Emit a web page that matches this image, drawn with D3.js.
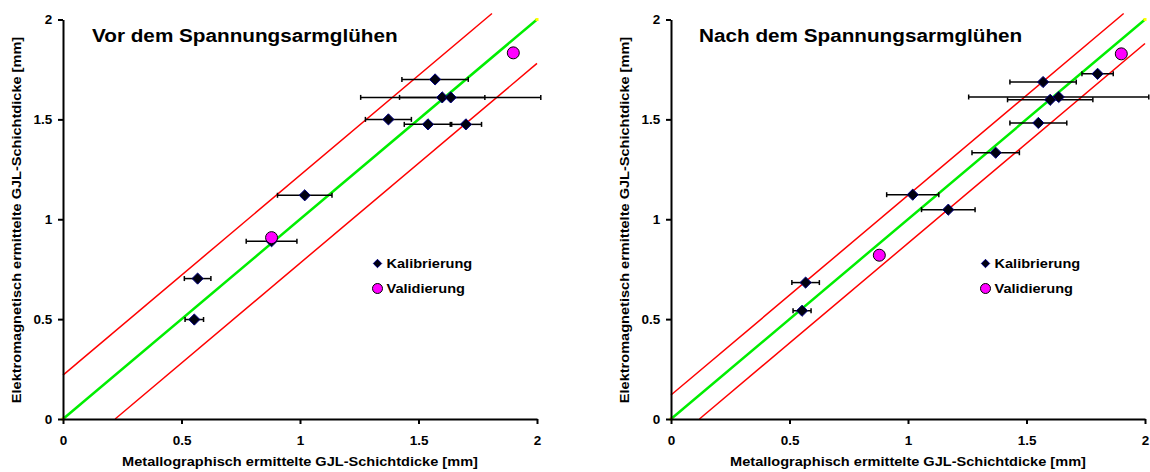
<!DOCTYPE html>
<html>
<head>
<meta charset="utf-8">
<script src="https://cdn.jsdelivr.net/npm/d3@7"></script>
<style>
    body { margin: 0; background: #fff; }
    svg text { font-family: "Liberation Sans", Arial, sans-serif; font-weight: bold; fill: #000; }
    .axis path, .axis line { stroke: #000; stroke-width: 2; }
    .axis text { font-size: 12.5px; }
</style>
</head>
<body>
<div id="chart"></div>
<script>
//== DATA ================================================//
var xTicks = [0, 0.5, 1, 1.5, 2];
var yTicks = [0, 0.5, 1, 1.5, 2];

// Vor dem Spannungsarmglühen
var vorKalX = [1.57, 1.60, 1.636, 1.373, 1.54, 1.70, 1.02, 0.88, 0.568, 0.554];
var vorKalY = [1.70, 1.61, 1.61, 1.50, 1.475, 1.475, 1.12, 0.89, 0.703, 0.498];
var vorKalErr = [0.14, 0.18, 0.38, 0.097, 0.10, 0.066, 0.115, 0.107, 0.056, 0.039];
var vorValX = [1.90, 0.88];
var vorValY = [1.833, 0.908];
var vorIdeal = [[0, 0], [2, 2]];
var vorUpper = [[0, 0.22], [1.81, 2.03]];
var vorLower = [[0.22, 0], [2, 1.78]];

// Nach dem Spannungsarmglühen
var nachKalX = [1.80, 1.57, 1.60, 1.636, 1.55, 1.37, 1.02, 1.17, 0.568, 0.553];
var nachKalY = [1.728, 1.687, 1.598, 1.612, 1.482, 1.333, 1.123, 1.048, 0.683, 0.542];
var nachKalErr = [0.066, 0.14, 0.18, 0.38, 0.12, 0.10, 0.11, 0.113, 0.058, 0.038];
var nachValX = [1.90, 0.879];
var nachValY = [1.828, 0.82];
var nachIdeal = [[0, 0], [2, 2]];
var nachUpper = [[0, 0.12], [1.91, 2.03]];
var nachLower = [[0.12, 0], [2, 1.88]];

var xTitle = "Metallographisch ermittelte GJL-Schichtdicke [mm]";
var yTitle = "Elektromagnetisch ermittelte GJL-Schichtdicke [mm]";

//== PLOT ================================================//
var svg = d3.select("#chart")
    .append("svg")
    .attr("width", 1150)
    .attr("height", 472);

var diamond = d3.symbol().type(d3.symbolDiamond2);
var sx = 1.12; // the original text runs a bit wide

// text placed at (px,py), slightly widened
var label = function (g, px, py, size, txt, anchor) {
    return g.append("text")
        .attr("text-anchor", anchor || "start")
        .attr("transform", "translate(" + px + "," + py + ")scale(" + sx + ",1)")
        .style("font-size", size + "px")
        .text(txt);
}

var drawPanel = function (p) {
    var g = svg.append("g").attr("transform", "translate(" + p.left + ",0)");

    var x = d3.scaleLinear().domain([0, 2]).range([0, 474]);
    var y = d3.scaleLinear().domain([0, 2]).range([419, 19.5]);

    var line = d3.line()
        .x(function (d) { return x(d[0]) })
        .y(function (d) { return y(d[1]) });

    // tolerance band and ideal line
    [p.upper, p.lower].forEach(function (l) {
        g.append("path").datum(l)
            .attr("d", line)
            .attr("fill", "none")
            .attr("stroke", "#ff0000")
            .attr("stroke-width", 1.5);
    });
    g.append("path").datum(p.ideal)
        .attr("d", line)
        .attr("fill", "none")
        .attr("stroke", "#00ee00")
        .attr("stroke-width", 2.5);
    g.selectAll(".endpt").data(p.ideal).enter()
        .append("rect")
        .attr("x", function (d) { return x(d[0]) - 1.5 })
        .attr("y", function (d) { return y(d[1]) - 1.5 })
        .attr("width", 3).attr("height", 3)
        .attr("fill", "#ffff00");

    // axes
    g.append("g")
        .attr("class", "axis")
        .attr("transform", "translate(0,419)")
        .call(d3.axisBottom(x).tickValues(xTicks).tickSize(5).tickSizeOuter(0).tickPadding(12)
            .tickFormat(function (d) { return String(d) }))
        .selectAll("text").attr("transform", "scale(1.08,1)");
    g.append("g")
        .attr("class", "axis")
        .call(d3.axisLeft(y).tickValues(yTicks).tickSize(5).tickSizeOuter(0).tickPadding(5)
            .tickFormat(function (d) { return String(d) }))
        .selectAll("text").attr("transform", "scale(1.08,1)");

    // error bars
    var kal = p.kalX.map(function (v, i) {
        return { x: v, y: p.kalY[i], e: p.kalErr[i] };
    });
    var eb = g.selectAll(".err").data(kal).enter().append("g")
        .attr("stroke", "#000")
        .attr("stroke-width", 1.5);
    eb.append("line")
        .attr("x1", function (d) { return x(d.x - d.e) })
        .attr("x2", function (d) { return x(d.x + d.e) })
        .attr("y1", function (d) { return y(d.y) })
        .attr("y2", function (d) { return y(d.y) });
    [-1, 1].forEach(function (s) {
        eb.append("line")
            .attr("x1", function (d) { return x(d.x + s * d.e) })
            .attr("x2", function (d) { return x(d.x + s * d.e) })
            .attr("y1", function (d) { return y(d.y) - 2.5 })
            .attr("y2", function (d) { return y(d.y) + 2.5 });
    });

    // Kalibrierung
    g.selectAll(".kal").data(kal).enter()
        .append("path")
        .attr("d", diamond.size(80))
        .attr("transform", function (d) { return "translate(" + x(d.x) + "," + y(d.y) + ")" })
        .attr("fill", "#000010")
        .attr("stroke", "#000080")
        .attr("stroke-width", 1);

    // Validierung
    g.selectAll(".val").data(p.valX).enter()
        .append("circle")
        .attr("cx", function (d) { return x(d) })
        .attr("cy", function (d, i) { return y(p.valY[i]) })
        .attr("r", 6)
        .attr("fill", "#ff00ff")
        .attr("stroke", "#000")
        .attr("stroke-width", 1);

    // title
    label(g, p.titleX, 41.5, 18.5, p.title);

    // legend
    g.append("path")
        .attr("d", diamond.size(45))
        .attr("transform", "translate(" + p.legX + ",263.5)")
        .attr("fill", "#000010")
        .attr("stroke", "#000080");
    g.append("circle")
        .attr("cx", p.legX)
        .attr("cy", 288.5)
        .attr("r", 5)
        .attr("fill", "#ff00ff")
        .attr("stroke", "#000");
    label(g, p.legX + 9, 268, 13, "Kalibrierung");
    label(g, p.legX + 9, 293, 13, "Validierung");

    // axis titles
    label(g, 237, 466, 13, xTitle, "middle");
    g.append("text")
        .attr("text-anchor", "middle")
        .attr("transform", "translate(" + p.yTitleX + ",220)rotate(-90)scale(" + sx + ",1)")
        .style("font-size", "13px")
        .text(yTitle);
}

drawPanel({
    left: 63, title: "Vor dem Spannungsarmglühen", titleX: 29, legX: 314.5, yTitleX: -42,
    kalX: vorKalX, kalY: vorKalY, kalErr: vorKalErr, valX: vorValX, valY: vorValY,
    ideal: vorIdeal, upper: vorUpper, lower: vorLower
});
drawPanel({
    left: 671, title: "Nach dem Spannungsarmglühen", titleX: 28, legX: 314.5, yTitleX: -42,
    kalX: nachKalX, kalY: nachKalY, kalErr: nachKalErr, valX: nachValX, valY: nachValY,
    ideal: nachIdeal, upper: nachUpper, lower: nachLower
});
</script>
</body>
</html>
